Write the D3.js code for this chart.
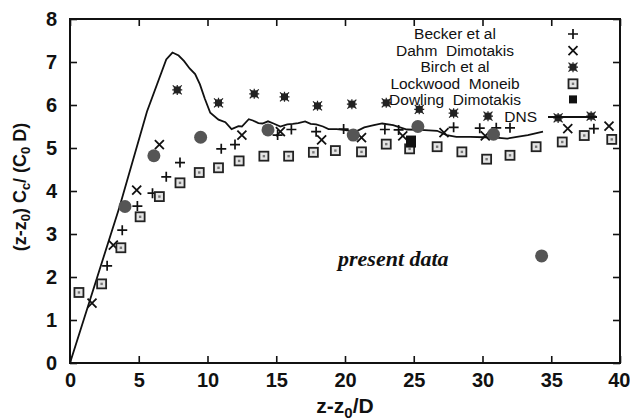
<!DOCTYPE html>
<html>
<head>
<meta charset="utf-8">
<script src="https://cdn.jsdelivr.net/npm/d3@7"></script>
<style>
body { margin: 0; background: #fff; }
text { font-family: "Liberation Sans", Arial, sans-serif; fill: #111; }
</style>
</head>
<body>
<script>
// data: [z-z0/D, (z-z0)Cc/(C0 D)]
let becker = [[2.7,2.26],[3.8,3.09],[4.9,3.65],[6.0,3.95],[7.0,4.33],[8.0,4.66],[11.0,4.98],[12.0,5.08],
  [15.1,5.30],[16.1,5.43],[17.9,5.38],[19.9,5.44],[22.9,5.43],[23.9,5.42],[27.9,5.48],[29.8,5.46],
  [31.0,5.47],[32.0,5.47],[38.1,5.45]];
let dahm = [[1.6,1.39],[3.15,2.74],[4.85,4.02],[6.5,5.08],[12.5,5.30],[15.3,5.38],[18.3,5.19],[21.2,5.24],
  [24.2,5.28],[27.2,5.36],[30.2,5.28],[36.2,5.45],[39.2,5.51]];
let birch = [[7.8,6.35],[10.8,6.05],[13.4,6.26],[15.6,6.19],[18.0,5.98],[20.5,6.02],[23.0,6.05],[25.4,5.90],
  [27.9,5.81],[30.4,5.74],[35.5,5.70],[37.9,5.74]];
let lockwood = [[0.65,1.64],[2.3,1.84],[3.7,2.68],[5.1,3.40],[6.5,3.87],[8.0,4.19],[9.4,4.43],[10.8,4.54],
  [12.3,4.70],[14.1,4.81],[15.9,4.81],[17.7,4.90],[19.3,4.94],[21.2,4.91],[23.0,5.09],[24.7,4.98],
  [26.7,5.03],[28.5,4.91],[30.3,4.74],[32.0,4.83],[33.9,5.03],[35.8,5.14],[37.4,5.29],[39.4,5.20]];
let dowling = [[24.8,5.15]];
let present = [[4.0,3.64],[6.1,4.82],[9.5,5.25],[14.4,5.42],[20.6,5.30],[25.3,5.50],[30.8,5.32],[34.3,2.49]];
let dns = [[0,0],[3.6,3.63],[5.6,5.85],[7.0,7.06],[7.45,7.22],[7.9,7.15],[8.3,7.02],[8.7,6.85],[9.1,6.72],
  [9.45,6.48],[9.8,6.15],[10.2,5.82],[10.8,5.66],[11.3,5.60],[11.75,5.44],[12.25,5.51],[12.5,5.50],
  [13.0,5.67],[13.3,5.64],[13.7,5.58],[14.0,5.57],[14.4,5.62],[14.8,5.57],[15.3,5.50],[15.8,5.55],
  [16.2,5.56],[16.6,5.58],[17.1,5.62],[17.5,5.56],[17.9,5.55],[18.4,5.50],[18.8,5.44],[19.4,5.44],
  [19.9,5.42],[20.4,5.40],[20.9,5.40],[21.4,5.48],[22.1,5.53],[22.7,5.57],[23.5,5.53],[24.0,5.48],
  [24.5,5.43],[25.5,5.42],[26.7,5.40],[27.4,5.30],[28.1,5.26],[29.1,5.26],[30.1,5.25],[31.0,5.24],
  [31.8,5.22],[32.5,5.26],[33.3,5.30],[34.4,5.38]];

let xTicks = [0,5,10,15,20,25,30,35,40];
let yTicks = [0,1,2,3,4,5,6,7,8];
let legendNames = ["Becker et al","Dahm  Dimotakis","Birch et al","Lockwood  Moneib","Dowling  Dimotakis","DNS"];
let legendKinds = ["plus","cross","birch","box","filled","line"];

let w = 630, h = 420;
let padL = 70, padR = 620, padT = 19, padB = 363;

let svg = d3.select("body").append("svg")
  .attr("width", w)
  .attr("height", h);

let xScale = d3.scaleLinear().domain([0,40]).range([padL,padR]);
let yScale = d3.scaleLinear().domain([0,8]).range([padB,padT]);

// axes, ticks pointing inward
let axes = [
  [d3.axisBottom(xScale).tickValues(xTicks).tickSize(-7).tickPadding(10), "translate(0," + padB + ")"],
  [d3.axisTop(xScale).tickValues(xTicks).tickSize(-7).tickFormat(""), "translate(0," + padT + ")"],
  [d3.axisLeft(yScale).tickValues(yTicks).tickSize(-7).tickPadding(13), "translate(" + padL + ",0)"],
  [d3.axisRight(yScale).tickValues(yTicks).tickSize(-7).tickFormat(""), "translate(" + padR + ",0)"]
];
axes.forEach(a => {
  let g = svg.append("g").attr("transform", a[1]).call(a[0]);
  g.select(".domain").remove();
  g.selectAll("line").attr("stroke", "#111").attr("stroke-width", 1.6);
  g.selectAll("text").style("font-size", "20px").style("font-weight", "bold")
    .style("font-family", '"Liberation Sans", Arial, sans-serif').attr("fill", "#111");
});
// last x label sits against the page edge
svg.selectAll("text").filter(function() { return d3.select(this).text() == "40"; })
  .attr("text-anchor", "end").attr("dx", 10);

svg.append("rect")
  .attr("x", padL).attr("y", padT)
  .attr("width", padR - padL).attr("height", padB - padT)
  .attr("fill", "none").attr("stroke", "#111").attr("stroke-width", 2);

function marker(g, kind, x, y) {
  let m = g.append("g").attr("transform", "translate(" + x + "," + y + ")");
  if (kind == "plus") {
    m.append("path").attr("d", "M-5,0H5M0,-5V5").attr("stroke", "#111").attr("stroke-width", 1.7);
  } else if (kind == "cross") {
    m.append("path").attr("d", "M-4.5,-4.5L4.5,4.5M-4.5,4.5L4.5,-4.5").attr("stroke", "#111").attr("stroke-width", 1.8);
  } else if (kind == "birch") {
    m.append("rect").attr("x", -3.5).attr("y", -3.5).attr("width", 7).attr("height", 7).attr("fill", "#222");
    m.append("path").attr("d", "M-4.5,-4.5L4.5,4.5M-4.5,4.5L4.5,-4.5M-5,0H5M0,-5V5").attr("stroke", "#222").attr("stroke-width", 1.2);
  } else if (kind == "box") {
    m.append("rect").attr("x", -4.5).attr("y", -4.5).attr("width", 9).attr("height", 9)
      .attr("fill", "#e4e4e4").attr("stroke", "#222").attr("stroke-width", 1.8);
    m.append("rect").attr("x", -1.2).attr("y", -1.2).attr("width", 2.4).attr("height", 2.4).attr("fill", "#777");
  } else if (kind == "filled") {
    m.append("rect").attr("x", -5).attr("y", -6).attr("width", 10).attr("height", 12).attr("fill", "#111");
  } else if (kind == "present") {
    m.append("circle").attr("r", 6.5).attr("fill", "#555");
  }
}

let line = d3.line().x(d => xScale(d[0])).y(d => yScale(d[1]));
svg.append("path")
  .datum(dns)
  .attr("d", line)
  .attr("fill", "none")
  .attr("stroke", "#111")
  .attr("stroke-width", 1.8);

let marks = svg.append("g");
becker.forEach(d => marker(marks, "plus", xScale(d[0]), yScale(d[1])));
dahm.forEach(d => marker(marks, "cross", xScale(d[0]), yScale(d[1])));
birch.forEach(d => marker(marks, "birch", xScale(d[0]), yScale(d[1])));
lockwood.forEach(d => marker(marks, "box", xScale(d[0]), yScale(d[1])));
dowling.forEach(d => marker(marks, "filled", xScale(d[0]), yScale(d[1])));
present.forEach(d => marker(marks, "present", xScale(d[0]), yScale(d[1])));

// legend
let legend = svg.append("g");
legendNames.forEach((name, i) => {
  let yy = 39 + i * 16.6;
  legend.append("text")
    .attr("x", i == 5 ? 537 : 455)
    .attr("y", yy)
    .attr("text-anchor", i == 5 ? "end" : "middle")
    .style("font-size", "15.5px")
    .style("white-space", "pre")
    .text(name);
  let k = legendKinds[i];
  if (k == "line") {
    legend.append("line").attr("x1", 548).attr("x2", 597).attr("y1", yy - 5).attr("y2", yy - 5)
      .attr("stroke", "#111").attr("stroke-width", 1.8);
  } else if (k == "filled") {
    legend.append("rect").attr("x", 569).attr("y", yy - 10).attr("width", 8).attr("height", 8).attr("fill", "#111");
  } else {
    marker(legend, k, 573, yy - 5);
  }
});

svg.append("text")
  .attr("x", 338).attr("y", 266)
  .style("font-family", '"Liberation Serif", "Times New Roman", serif')
  .style("font-style", "italic").style("font-weight", "bold").style("font-size", "22px")
  .text("present data");

// axis titles
let xt = svg.append("text")
  .attr("x", 345).attr("y", 413)
  .attr("text-anchor", "middle")
  .style("font-size", "21px").style("font-weight", "bold");
xt.append("tspan").text("z-z");
xt.append("tspan").attr("dy", 5).style("font-size", "15px").text("0");
xt.append("tspan").attr("dy", -5).text("/D");

let yt = svg.append("text")
  .attr("transform", "translate(26,187) rotate(-90)")
  .attr("text-anchor", "middle")
  .style("font-size", "18px").style("font-weight", "bold");
yt.append("tspan").text("(z-z");
yt.append("tspan").attr("dy", 4).style("font-size", "13px").text("0");
yt.append("tspan").attr("dy", -4).text(") C");
yt.append("tspan").attr("dy", 4).style("font-size", "13px").text("c");
yt.append("tspan").attr("dy", -4).text("/ (C");
yt.append("tspan").attr("dy", 4).style("font-size", "13px").text("0");
yt.append("tspan").attr("dy", -4).text(" D)");
</script>
</body>
</html>
